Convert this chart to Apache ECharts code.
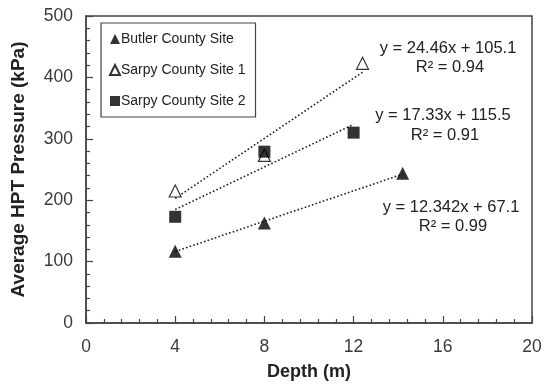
<!DOCTYPE html>
<html><head><meta charset="utf-8">
<script src="https://cdn.jsdelivr.net/npm/echarts@6/dist/echarts.min.js"></script>
<style>html,body{margin:0;padding:0;background:#fff}#c{width:550px;height:390px}</style>
</head><body><div id="c"></div>
<script>
// Data
const butlerDepth = [4, 8, 14.2];
const butlerPressure = [117, 163, 244];
const sarpy1Depth = [4, 8, 12.4];
const sarpy1Pressure = [215, 273, 423];
const sarpy2Depth = [4, 8, 12];
const sarpy2Pressure = [173, 279, 310];
// Trendline end points (from the fitted equations shown)
const butlerTrendX = [4, 14.2];
const butlerTrendY = [116.5, 242.4];
const sarpy1TrendX = [4, 12.4];
const sarpy1TrendY = [202.9, 408.4];
const sarpy2TrendX = [4, 12];
const sarpy2TrendY = [184.8, 323.5];
const seriesNames = ['Butler County Site', 'Sarpy County Site 1', 'Sarpy County Site 2'];
const equations = [
  ['y = 24.46x + 105.1', 'R² = 0.94'],
  ['y = 17.33x + 115.5', 'R² = 0.91'],
  ['y = 12.342x + 67.1', 'R² = 0.99']
];
const xTicks = [0, 4, 8, 12, 16, 20];
const yTicks = [0, 100, 200, 300, 400, 500];

const zip = (a, b) => a.map((v, i) => [v, b[i]]);
const FONT = 'Liberation Sans, Arial, sans-serif';
const axisCol = '#444';
const textCol = '#3a3a3a';

const chart = echarts.init(document.getElementById('c'), null, {renderer: 'canvas'});

function trend(x, y) {
  return {
    type: 'line', data: zip(x, y), symbol: 'none', silent: true,
    lineStyle: {color: '#222', width: 1.6, type: [1.6, 2.2]}, z: 1
  };
}

const eqGraphics = [];
const eqPos = [[448, 48, 67], [443, 115, 135], [451, 207, 226]];
equations.forEach((e, i) => {
  eqGraphics.push({type: 'text', x: eqPos[i][0], y: eqPos[i][1],
    style: {text: e[0], font: '16.5px ' + FONT, fill: '#222', textAlign: 'center', textVerticalAlign: 'middle'}});
  eqGraphics.push({type: 'text', x: eqPos[i][0] + 2, y: eqPos[i][2],
    style: {text: e[1], font: '16.5px ' + FONT, fill: '#222', textAlign: 'center', textVerticalAlign: 'middle'}});
});

chart.setOption({
  animation: false,
  textStyle: {fontFamily: FONT},
  grid: {left: 86, right: 18, top: 16, bottom: 67, show: true, borderColor: axisCol, borderWidth: 1.5, backgroundColor: 'transparent'},
  legend: {
    data: seriesNames, orient: 'vertical', left: 101, top: 23,
    padding: [9, 10, 9, 8], itemGap: 17, itemWidth: 10, itemHeight: 10,
    borderColor: '#444', borderWidth: 1.2,
    textStyle: {fontSize: 14, color: '#222', fontFamily: FONT, padding: [0, 0, 0, -4]}
  },
  xAxis: {
    type: 'value', min: xTicks[0], max: xTicks[xTicks.length - 1], interval: 4,
    name: 'Depth (m)', nameLocation: 'middle', nameGap: 40,
    nameTextStyle: {fontSize: 18, fontWeight: 'bold', color: '#222'},
    axisLine: {show: true, lineStyle: {color: axisCol, width: 1.5}},
    axisTick: {show: true, inside: true, length: 7, lineStyle: {color: axisCol, width: 1.2}},
    minorTick: {show: true, splitNumber: 5, length: 4, lineStyle: {color: axisCol, width: 1.2}},
    axisLabel: {fontSize: 17.5, color: textCol, margin: 15},
    splitLine: {show: false}
  },
  yAxis: {
    type: 'value', min: yTicks[0], max: yTicks[yTicks.length - 1], interval: 100,
    name: 'Average HPT Pressure (kPa)', nameLocation: 'middle', nameGap: 58,
    nameTextStyle: {fontSize: 19, fontWeight: 'bold', color: '#222'},
    axisLine: {show: true, lineStyle: {color: axisCol, width: 1.5}},
    axisTick: {show: true, inside: true, length: 7, lineStyle: {color: axisCol, width: 1.2}},
    minorTick: {show: true, splitNumber: 5, length: 4, lineStyle: {color: axisCol, width: 1.2}},
    axisLabel: {fontSize: 17.5, color: textCol, margin: 13},
    splitLine: {show: false}
  },
  series: [
    trend(butlerTrendX, butlerTrendY),
    trend(sarpy1TrendX, sarpy1TrendY),
    trend(sarpy2TrendX, sarpy2TrendY),
    {name: seriesNames[0], type: 'scatter', data: zip(butlerDepth, butlerPressure), symbol: 'triangle', symbolSize: 13,
      itemStyle: {color: '#000'}, z: 3},
    {name: seriesNames[1], type: 'scatter', data: zip(sarpy1Depth, sarpy1Pressure), symbol: 'triangle', symbolSize: 12,
      itemStyle: {color: '#fff', borderColor: '#000', borderWidth: 1.2}, z: 3},
    {name: seriesNames[2], type: 'scatter', data: zip(sarpy2Depth, sarpy2Pressure), symbol: 'rect', symbolSize: 12,
      itemStyle: {color: '#000'}, z: 4}
  ],
  graphic: eqGraphics
});
</script></body></html>
